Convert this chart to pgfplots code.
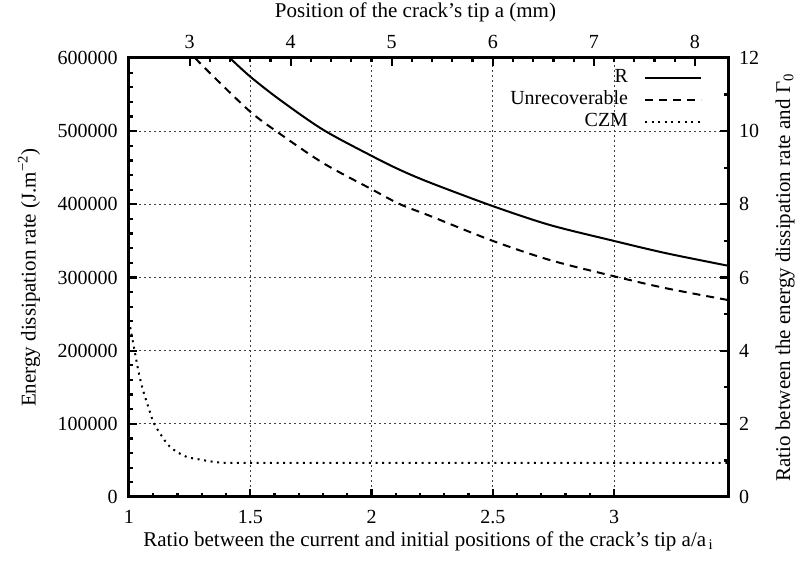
\documentclass[border=0pt]{standalone}
\usepackage{fontspec}
\setmainfont{Liberation Serif}
\usepackage{pgfplots}
\pgfplotsset{compat=1.18}

\pgfplotsset{
  gpbase/.style={
    scale only axis, width=299.5pt, height=219.5pt,
    font=\fontsize{10}{12}\selectfont,
    tick label style={font=\fontsize{10}{12}\selectfont},
    label style={font=\fontsize{10.5}{12}\selectfont},
    /pgf/number format/assume math mode=true,
    /pgf/number format/.cd, fixed, 1000 sep={}, /pgfplots/.cd,
    scaled ticks=false,
    tick align=inside,
    major tick length=4pt, minor tick length=2pt,
    every tick/.style={black, line width=1.1pt},
    axis line style={line width=1.5pt},
  },
}

\begin{document}
\begin{tikzpicture}
\useasboundingbox (-64.5pt,-32pt) rectangle (336.5pt,248.5pt);
\begin{axis}[gpbase,
  xmin=1, xmax=3.47, ymin=0, ymax=600000,
  xtick={1,1.5,2,2.5,3}, minor x tick num=4,
  ytick={0,100000,200000,300000,400000,500000,600000}, minor y tick num=4,
  xtick pos=left, ytick pos=left,
  xmajorgrids, ymajorgrids,
  major grid style={black!75, line width=0.45pt, dash pattern=on 1pt off 1.5pt},
  xlabel={Ratio between the current and initial positions of the crack’s tip a/a\textsubscript{\,i}},
  ylabel={Energy dissipation rate (J.m\textsuperscript{−2})},
  xlabel style={at={(axis description cs:0.5,0)}, anchor=center, yshift=-22pt},
  ylabel style={at={(axis description cs:0,0.5)}, anchor=center, yshift=50pt},
  xticklabel style={yshift=-3.3pt},
  yticklabel style={xshift=-2.1pt},
  legend style={draw=none, fill=none, inner sep=0pt, outer sep=0pt,
    at={(axis description cs:0.9566,0.976)}, anchor=north east,
    nodes={inner sep=0pt, text height=7pt, text depth=2pt},
    legend cell align=right, row sep=2pt, font=\fontsize{10}{12}\selectfont},
  legend plot pos=right,
  legend image code/.code={\path (0pt,0pt); \draw[#1] (8pt,0pt) -- (36pt,0pt);},
]
% R
\addplot[black, line width=1pt, smooth] coordinates {
  (1.416,600000)(1.499,574800)(1.622,542900)(1.801,501800)(2.0,466300)
  (2.117,447100)(2.241,429700)(2.498,397800)(2.735,371800)(2.996,350300)
  (3.216,333100)(3.470,316100)};
\addlegendentry{R}
% Unrecoverable
\addplot[black, line width=1pt, smooth, dash pattern=on 4pt off 3pt] coordinates {
  (1.272,600000)(1.348,574800)(1.499,526900)(1.609,499500)(1.801,456300)
  (2.0,420700)(2.117,400200)(2.241,384200)(2.498,350300)(2.735,323900)
  (2.996,302000)(3.216,285200)(3.470,269200)};
\addlegendentry{Unrecoverable}
% CZM
\addplot[black, line width=1pt, smooth, dash pattern=on 1pt off 2.3pt] coordinates {
  (1.005,232000)(1.025,196400)(1.038,173500)(1.052,153000)(1.066,137000)
  (1.084,118800)(1.1,102700)(1.128,86800)(1.169,68500)(1.231,55700)
  (1.293,51200)(1.375,47100)(1.5,46600)(2.0,46500)(2.5,46500)(3.0,46500)
  (3.47,46500)};
\addlegendentry{CZM}
\end{axis}
\begin{axis}[gpbase,
  xmin=2.4, xmax=8.328, ymin=0, ymax=12,
  axis x line*=top, axis y line*=right,
  xtick={3,4,5,6,7,8}, minor x tick num=4,
  ytick={0,2,4,6,8,10,12}, minor y tick num=1,
  xlabel={Position of the crack’s tip a (mm)},
  ylabel={Ratio between the energy dissipation rate and Γ\textsubscript{0}},
  xlabel style={at={(axis description cs:0.5,1)}, anchor=center, yshift=23pt, xshift=-6.5pt},
  ylabel style={at={(axis description cs:1,0.5)}, anchor=center, yshift=-28.5pt},
  xticklabel style={yshift=1.3pt},
  yticklabel style={xshift=2pt},
]
\end{axis}
\end{tikzpicture}
\end{document}
